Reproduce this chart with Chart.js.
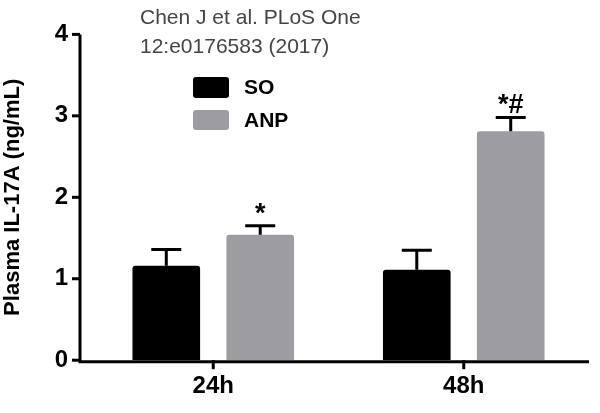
<!DOCTYPE html>
<html>
<head>
<meta charset="utf-8">
<script src="https://cdn.jsdelivr.net/npm/chart.js@4"></script>
<style>
  html, body { margin: 0; padding: 0; background: #fff; }
  #wrap { width: 600px; height: 413px; }
</style>
</head>
<body>
<div id="wrap"><canvas id="myChart"></canvas></div>
<script>
const categories = ['24h', '48h'];
const soValues = [1.16, 1.11];
const soErrors = [0.20, 0.24];
const anpValues = [1.54, 2.81];
const anpErrors = [0.11, 0.17];
const anpMarks = ['*', '*#'];
const yTicks = [0, 1, 2, 3, 4];

const ctx = document.getElementById('myChart').getContext('2d');

// error bars, axes, legend and source text
const extras = {
    id: 'extras',
    afterDatasetsDraw(chart) {
        const c = chart.ctx;
        const x = chart.scales.x, y = chart.scales.y;
        const area = chart.chartArea;
        c.save();
        c.strokeStyle = '#000';
        c.fillStyle = '#000';
        c.lineWidth = 3;
        // error bars
        const errs = [soErrors, anpErrors];
        chart.data.datasets.forEach((ds, di) => {
            chart.getDatasetMeta(di).data.forEach((bar, i) => {
                const top = y.getPixelForValue(ds.data[i] + errs[di][i]);
                c.beginPath();
                c.moveTo(bar.x, bar.y);
                c.lineTo(bar.x, top);
                c.moveTo(bar.x - 15, top);
                c.lineTo(bar.x + 15, top);
                c.stroke();
                if (di === 1) {
                    c.font = 'bold 27px "Liberation Sans", Arial';
                    c.textAlign = 'center';
                    c.textBaseline = 'bottom';
                    c.fillText(anpMarks[i], bar.x, top + 2);
                }
            });
        });
        // axes
        const left = area.left - 8;
        c.beginPath();
        c.moveTo(left, area.top);
        c.lineTo(left, area.bottom + 1.5);
        c.lineTo(area.right, area.bottom + 1.5);
        c.stroke();
        yTicks.forEach(t => {
            const py = y.getPixelForValue(t);
            c.beginPath();
            c.moveTo(left - 8, py);
            c.lineTo(left, py);
            c.stroke();
        });
        categories.forEach((cat, i) => {
            const px = x.getPixelForValue(i);
            c.beginPath();
            c.moveTo(px, area.bottom);
            c.lineTo(px, area.bottom + 9);
            c.stroke();
        });
        // legend
        c.textAlign = 'left';
        c.textBaseline = 'middle';
        c.font = 'bold 21px "Liberation Sans", Arial';
        c.fillStyle = '#000';
        c.beginPath(); c.roundRect(193, 77, 36, 21, 3); c.fill();
        c.fillText('SO', 244, 88);
        c.fillStyle = '#9d9da1';
        c.beginPath(); c.roundRect(193, 110, 36, 20, 3); c.fill();
        c.fillStyle = '#000';
        c.fillText('ANP', 244, 121);
        // source text
        c.fillStyle = '#444';
        c.font = '21px "Liberation Sans", Arial';
        c.fillText('Chen J et al. PLoS One', 140, 18);
        c.fillText('12:e0176583 (2017)', 140, 47);
        c.restore();
    }
};

const myChart = new Chart(ctx, {
    type: 'bar',
    data: {
        labels: categories,
        datasets: [{
            label: 'SO',
            data: soValues,
            backgroundColor: '#000',
            borderRadius: 3,
            borderSkipped: 'bottom'
        }, {
            label: 'ANP',
            data: anpValues,
            backgroundColor: '#9d9da1',
            borderRadius: 3,
            borderSkipped: 'bottom'
        }]
    },
    options: {
        responsive: true,
        maintainAspectRatio: false,
        animation: false,
        categoryPercentage: 0.75,
        barPercentage: 0.72,
        layout: { padding: { top: 33, right: 11, left: 0, bottom: 0 } },
        plugins: { legend: { display: false }, tooltip: { enabled: false } },
        scales: {
            x: {
                offset: true,
                grid: { display: false, drawTicks: false },
                border: { display: false },
                ticks: { color: '#000', padding: 12, font: { family: '"Liberation Sans", Arial', size: 24, weight: 'bold' } }
            },
            y: {
                min: 0,
                max: 4,
                afterFit(s) { s.width = 88; },
                grid: { display: false, drawTicks: false },
                border: { display: false },
                ticks: {
                    stepSize: 1,
                    color: '#000',
                    padding: 20,
                    font: { family: '"Liberation Sans", Arial', size: 24, weight: 'bold' }
                },
                title: {
                    display: true,
                    text: 'Plasma IL-17A (ng/mL)',
                    color: '#000',
                    padding: 0,
                    font: { family: '"Liberation Sans", Arial', size: 22, weight: 'bold' }
                }
            }
        }
    },
    plugins: [extras]
});
</script>
</body>
</html>
